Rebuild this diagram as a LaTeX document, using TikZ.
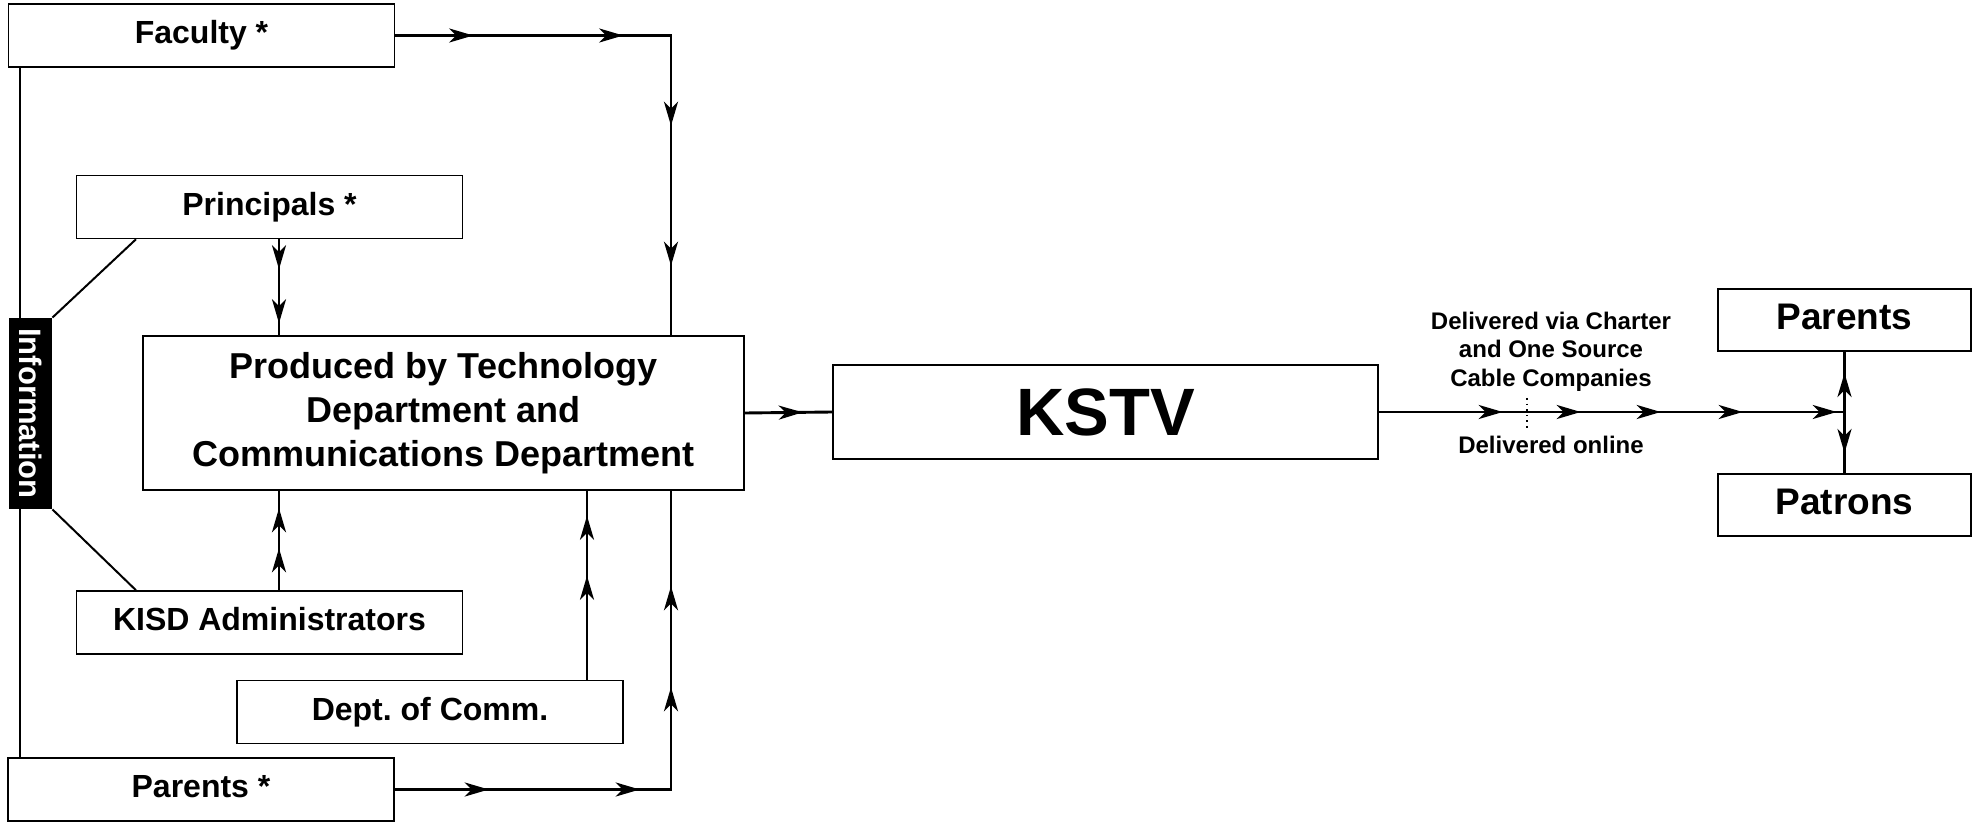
\documentclass[tikz,border=0pt]{standalone}
\usepackage{fontspec}
\setmainfont{Liberation Sans}
\usetikzlibrary{arrows.meta,decorations.markings}
\begin{document}
\begin{tikzpicture}[x=0.5pt,y=-0.5pt,
  >={Stealth[length=12pt,width=7pt,inset=3.5pt]},
  box/.style={draw, line width=0.75pt, inner sep=0pt, fill=white},
  sbox/.style={box, minimum width=193pt, minimum height=31.5pt, text height=11.5pt, text depth=3.4pt,
               font=\bfseries\fontsize{16}{19}\selectfont},
  rbox/.style={box, minimum width=126.5pt, minimum height=31pt, text height=13.3pt, text depth=4pt,
               font=\bfseries\fontsize{18.5}{22}\selectfont},
  conn/.style={line width=1.45pt},
  thinline/.style={line width=1pt},
  lbl/.style={font=\bfseries\fontsize{12}{14.25}\selectfont, align=center, inner sep=0pt},
]
\useasboundingbox (0,0) rectangle (1981,823);

% nodes
\node[sbox] (fac) at (201.5,35.5) {Faculty *};
\node[sbox] (prin) at (269.5,207) {Principals *};
\node[sbox] (kisd) at (269.5,622.5) {KISD Administrators};
\node[sbox] (dept) at (430,712) {Dept.\ of Comm.};
\node[sbox] (par) at (201,789.5) {Parents *};
\node[box, minimum width=300.5pt, minimum height=77pt, align=center,
      font=\bfseries\fontsize{18}{22}\selectfont] (prod) at (443.5,413)
      {Produced by Technology\\Department and\\Communications Department};
\node[box, minimum width=272.5pt, minimum height=47pt,
      font=\bfseries\fontsize{33.5}{38}\selectfont] (kstv) at (1105.5,412) {KSTV};
\node[rbox] (rpar) at (1844.5,320) {Parents};
\node[rbox] (pat) at (1844.5,505) {Patrons};

% helper coordinates
\coordinate (rx) at (671,0);
\coordinate (px) at (279,0);
\coordinate (dx) at (587,0);
\coordinate (lx) at (20,0);
\coordinate (gx) at (136,0);
\coordinate (jn) at (kstv.east -| rpar.south);
\coordinate (d1) at (1527,398);
\coordinate (d2) at (1527,430);

% left line and Information tab
\draw[thinline] (lx |- fac.south) -- (lx |- par.north);
\node[fill=black, text=white, inner sep=0pt, minimum width=21.5pt, minimum height=95.5pt,
      font=\bfseries\fontsize{15.5}{18}\selectfont] (info) at (30.5,413.5)
      {\rotatebox{-90}{Information}};
\draw[thinline] (info.north east) -- (gx |- prin.south);
\draw[thinline] (info.south east) -- (gx |- kisd.north);

% connectors
\draw[conn, postaction={decorate}, decoration={markings,
   mark=at position 39pt with {\arrow{>}},
   mark=at position 114pt with {\arrow{>}},
   mark=at position 183pt with {\arrow{>}},
   mark=at position 253pt with {\arrow{>}}}]
  (fac.east) -| (rx |- prod.north);
\draw[conn, postaction={decorate}, decoration={markings,
   mark=at position 15pt with {\arrow{>}},
   mark=at position 42pt with {\arrow{>}}}]
  (px |- prin.south) -- (px |- prod.north);
\draw[conn, postaction={decorate}, decoration={markings,
   mark=at position 21pt with {\arrow{>}},
   mark=at position 41pt with {\arrow{>}}}]
  (px |- kisd.north) -- (px |- prod.south);
\draw[conn, postaction={decorate}, decoration={markings,
   mark=at position 52pt with {\arrow{>}},
   mark=at position 82pt with {\arrow{>}}}]
  (dx |- dept.north) -- (dx |- prod.south);
\draw[conn, postaction={decorate}, decoration={markings,
   mark=at position 47pt with {\arrow{>}},
   mark=at position 122.5pt with {\arrow{>}},
   mark=at position 189.25pt with {\arrow{>}},
   mark=at position 239.75pt with {\arrow{>}}}]
  (par.east) -| (rx |- prod.south);
\draw[conn, postaction={decorate}, decoration={markings,
   mark=at position 29pt with {\arrow{>}}}]
  (prod.east) -- (kstv.west);
\draw[conn, postaction={decorate}, decoration={markings,
   mark=at position 62pt with {\arrow{>}},
   mark=at position 101pt with {\arrow{>}},
   mark=at position 141pt with {\arrow{>}},
   mark=at position 182pt with {\arrow{>}},
   mark=at position 229pt with {\arrow{>}}}]
  (kstv.east) -- (jn);
\draw[conn, postaction={decorate}, decoration={markings,
   mark=at position 19.5pt with {\arrow{>}}}]
  (jn) -- (rpar.south);
\draw[conn, postaction={decorate}, decoration={markings,
   mark=at position 20.5pt with {\arrow{>}}}]
  (jn) -- (pat.north);

% labels
\draw[dotted, line width=0.8pt] (d1) -- (d2);
\node[lbl] (lab1) at (1551,351.5) {Delivered via Charter\\and One Source\\Cable Companies};
\node[lbl] (lab2) at (1551,445) {Delivered online};
\end{tikzpicture}
\end{document}
